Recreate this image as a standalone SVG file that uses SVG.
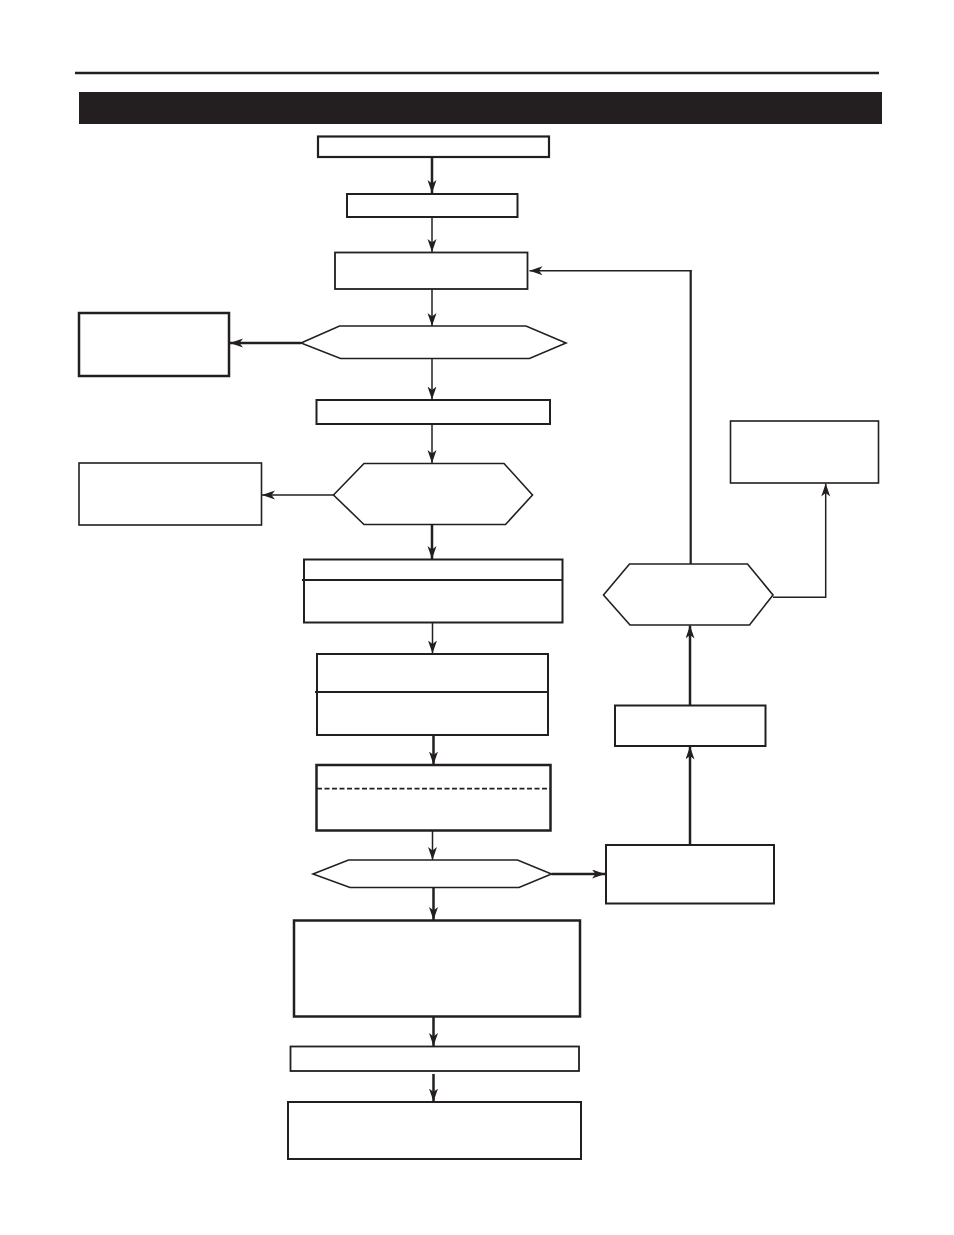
<svg xmlns="http://www.w3.org/2000/svg" width="954" height="1235" viewBox="0 0 954 1235">
<style>
.n{fill:#fff;stroke:#231f20}
.c{fill:none;stroke:#231f20}
.h{stroke-width:2.5}
.t{stroke-width:1.5}
</style>
<defs>
<marker id="ah" markerUnits="userSpaceOnUse" markerWidth="15" markerHeight="11" refX="13" refY="4.5" orient="auto">
<path d="M0,0 L13,4.5 L0,9 L3.5,4.5 z" fill="#231f20"/>
</marker>
</defs>
<rect width="954" height="1235" fill="#fff"/>
<g id="header">
<line x1="75" y1="73" x2="879" y2="73" stroke="#231f20" stroke-width="2.5"/>
<rect x="79" y="92" width="803" height="32" fill="#231f20"/>
</g>
<g id="box1"><rect class="n" x="318" y="136.5" width="231" height="20.5" stroke-width="2.2"/></g>
<g id="box2"><rect class="n" x="347" y="194" width="170.5" height="23" stroke-width="2"/></g>
<g id="box3"><rect class="n" x="335" y="252.5" width="192.5" height="36.5" stroke-width="1.8"/></g>
<g id="hex1"><polygon class="n" points="301,343 339.5,326 526,326 566,343 529.5,358.5 340.5,358.5" stroke-width="1.6"/></g>
<g id="boxA"><rect class="n" x="79" y="313" width="150" height="63" stroke-width="2.5"/></g>
<g id="box4"><rect class="n" x="316.5" y="400" width="233.5" height="24" stroke-width="2"/></g>
<g id="hex2"><polygon class="n" points="333.5,495 364,463.5 504,463.5 532.5,495 505.5,524.5 364,524.5" stroke-width="1.6"/></g>
<g id="boxB"><rect class="n" x="79" y="463" width="182.5" height="62" stroke-width="1.6"/></g>
<g id="box5">
<rect class="n" x="304" y="559.5" width="258.5" height="63" stroke-width="2"/>
<line x1="302" y1="580" x2="562.5" y2="580" stroke="#231f20" stroke-width="2"/>
</g>
<g id="box6">
<rect class="n" x="317" y="654" width="231" height="81" stroke-width="2"/>
<line x1="315" y1="692" x2="548" y2="692" stroke="#231f20" stroke-width="2"/>
</g>
<g id="box7">
<rect class="n" x="316.5" y="765" width="234" height="65.5" stroke-width="2.5"/>
<line x1="317" y1="788.7" x2="550" y2="788.7" stroke="#231f20" stroke-width="1.8" stroke-dasharray="5,2.5"/>
</g>
<g id="hex3"><polygon class="n" points="313,874 348.5,860 517.5,860 551.5,874 519,887.5 350,887.5" stroke-width="1.6"/></g>
<g id="box8"><rect class="n" x="294" y="920.5" width="286" height="96" stroke-width="2.5"/></g>
<g id="box9"><rect class="n" x="290.5" y="1046.5" width="288.5" height="24.5" stroke-width="1.8"/></g>
<g id="box10"><rect class="n" x="288" y="1102" width="293" height="57" stroke-width="2"/></g>
<g id="boxC"><rect class="n" x="606" y="845" width="168" height="58.5" stroke-width="2"/></g>
<g id="boxD"><rect class="n" x="615" y="705.5" width="150.5" height="40.5" stroke-width="2"/></g>
<g id="hex4"><polygon class="n" points="603.5,595 629.5,564 747.5,564 773,595 749.5,625 630,625" stroke-width="1.6"/></g>
<g id="boxE"><rect class="n" x="730.5" y="421" width="148" height="62" stroke-width="1.6"/></g>
<g id="connectors">
<line class="c h" x1="432" y1="157" x2="432" y2="193" marker-end="url(#ah)"/>
<line class="c t" x1="432" y1="217" x2="432" y2="252" marker-end="url(#ah)"/>
<line class="c t" x1="432" y1="289" x2="432" y2="326" marker-end="url(#ah)"/>
<line class="c h" x1="301" y1="343" x2="230" y2="343" marker-end="url(#ah)"/>
<line class="c t" x1="432" y1="358.5" x2="432" y2="399.5" marker-end="url(#ah)"/>
<line class="c t" x1="432" y1="424" x2="432" y2="463" marker-end="url(#ah)"/>
<line class="c t" x1="333.5" y1="495" x2="262" y2="495" marker-end="url(#ah)"/>
<line class="c h" x1="432" y1="524.5" x2="432" y2="559" marker-end="url(#ah)"/>
<line class="c t" x1="432.5" y1="622.5" x2="432.5" y2="653.5" marker-end="url(#ah)"/>
<line class="c h" x1="433.5" y1="735" x2="433.5" y2="764.5" marker-end="url(#ah)"/>
<line class="c t" x1="432.5" y1="830.5" x2="432.5" y2="860" marker-end="url(#ah)"/>
<line class="c h" x1="551.5" y1="874" x2="605" y2="874" marker-end="url(#ah)"/>
<line class="c h" x1="433.5" y1="887.5" x2="433.5" y2="920" marker-end="url(#ah)"/>
<line class="c h" x1="433.5" y1="1016.5" x2="433.5" y2="1046" marker-end="url(#ah)"/>
<line class="c h" x1="433.5" y1="1074" x2="433.5" y2="1101.5" marker-end="url(#ah)"/>
<line class="c h" x1="690" y1="845" x2="690" y2="746.5" marker-end="url(#ah)"/>
<line class="c h" x1="690" y1="705.5" x2="690" y2="625.5" marker-end="url(#ah)"/>
<line class="c" stroke-width="2.2" x1="690.7" y1="564" x2="690.7" y2="270"/>
<polyline class="c t" points="691.5,270.7 529.5,270.7" marker-end="url(#ah)"/>
<polyline class="c t" points="773,597.3 825.7,597.3 825.7,483.5" marker-end="url(#ah)"/>
</g>
</svg>
